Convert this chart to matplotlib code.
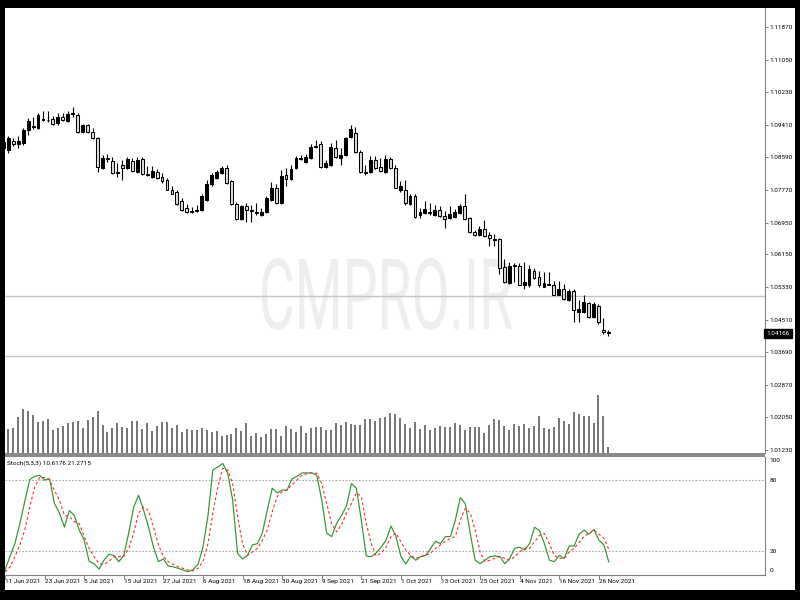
import numpy as np
import matplotlib
matplotlib.use("Agg")
import matplotlib.pyplot as plt
from matplotlib.patches import Rectangle, PathPatch
from matplotlib.textpath import TextPath
from matplotlib.font_manager import FontProperties
from matplotlib.transforms import Affine2D, blended_transform_factory

plt.rcParams['font.family'] = ['Roboto', 'DejaVu Sans']

# daily bars, 11 Jun 2021 .. 30 Nov 2021
opens = [
    1.0898, 1.0878, 1.0901, 1.0893, 1.0896, 1.0928, 1.0938, 1.0933, 1.0956, 1.0953,
    1.0956, 1.0946, 1.0961, 1.0951, 1.0971, 1.0966, 1.0923, 1.0941, 1.0923, 1.0908,
    1.0833, 1.0858, 1.0851, 1.0823, 1.0841, 1.0833, 1.0851, 1.0823, 1.0856, 1.0818,
    1.0811, 1.0823, 1.0811, 1.0803, 1.0778, 1.0771, 1.0750, 1.0732, 1.0725, 1.0725,
    1.0727, 1.0752, 1.0791, 1.0808, 1.0821, 1.0833, 1.0801, 1.0742, 1.0705, 1.0737,
    1.0727, 1.0722, 1.0715, 1.0722, 1.0752, 1.0783, 1.0745, 1.0816, 1.0806, 1.0833,
    1.0858, 1.0848, 1.0858, 1.0888, 1.0893, 1.0836, 1.0841, 1.0883, 1.0858, 1.0866,
    1.0911, 1.0921, 1.0873, 1.0823, 1.0823, 1.0853, 1.0836, 1.0823, 1.0856, 1.0833,
    1.0778, 1.0776, 1.0742, 1.0763, 1.0715, 1.0720, 1.0722, 1.0715, 1.0727, 1.0712,
    1.0707, 1.0710, 1.0720, 1.0737, 1.0707, 1.0672, 1.0664, 1.0679, 1.0664, 1.0654,
    1.0654, 1.0584, 1.0544, 1.0589, 1.0587, 1.0539, 1.0537, 1.0574, 1.0559, 1.0534,
    1.0542, 1.0539, 1.0514, 1.0529, 1.0501, 1.0522, 1.0471, 1.0471, 1.0494, 1.0459,
    1.0486, 1.0426, 1.0419]
closes = [
    1.0883, 1.0908, 1.0893, 1.0901, 1.0928, 1.0951, 1.0936, 1.0966, 1.0953, 1.0952,
    1.0943, 1.0961, 1.0953, 1.0968, 1.0968, 1.0923, 1.0941, 1.0923, 1.0908, 1.0836,
    1.0858, 1.0856, 1.0821, 1.0821, 1.0833, 1.0856, 1.0826, 1.0853, 1.0818, 1.0816,
    1.0826, 1.0808, 1.0801, 1.0778, 1.0768, 1.0742, 1.0727, 1.0722, 1.0723, 1.0727,
    1.0761, 1.0793, 1.0816, 1.0823, 1.0833, 1.0796, 1.0742, 1.0705, 1.0737, 1.0727,
    1.0725, 1.0720, 1.0722, 1.0756, 1.0783, 1.0745, 1.0813, 1.0806, 1.0831, 1.0858,
    1.0856, 1.0861, 1.0886, 1.0886, 1.0836, 1.0846, 1.0886, 1.0861, 1.0866, 1.0908,
    1.0931, 1.0873, 1.0823, 1.0821, 1.0853, 1.0833, 1.0826, 1.0856, 1.0833, 1.0783,
    1.0786, 1.0745, 1.0763, 1.0710, 1.0722, 1.0730, 1.0720, 1.0727, 1.0712, 1.0705,
    1.0717, 1.0722, 1.0737, 1.0705, 1.0672, 1.0664, 1.0679, 1.0662, 1.0657, 1.0652,
    1.0582, 1.0547, 1.0587, 1.0587, 1.0539, 1.0547, 1.0579, 1.0557, 1.0537, 1.0544,
    1.0539, 1.0514, 1.0529, 1.0504, 1.0522, 1.0476, 1.0479, 1.0496, 1.0459, 1.0491,
    1.0444, 1.0419, 1.04166]
highs = [
    1.0908, 1.0913, 1.0908, 1.0913, 1.0933, 1.0958, 1.0961, 1.0971, 1.0976, 1.0976,
    1.0963, 1.0971, 1.0971, 1.0976, 1.0986, 1.0971, 1.0943, 1.0943, 1.0933, 1.0911,
    1.0866, 1.0868, 1.0861, 1.0846, 1.0853, 1.0861, 1.0858, 1.0861, 1.0861, 1.0838,
    1.0838, 1.0831, 1.0821, 1.0808, 1.0786, 1.0776, 1.0758, 1.0742, 1.0735, 1.0740,
    1.0766, 1.0803, 1.0821, 1.0828, 1.0838, 1.0841, 1.0803, 1.0747, 1.0740, 1.0745,
    1.0740, 1.0745, 1.0732, 1.0761, 1.0798, 1.0791, 1.0828, 1.0833, 1.0841, 1.0863,
    1.0866, 1.0868, 1.0893, 1.0903, 1.0901, 1.0853, 1.0896, 1.0903, 1.0883, 1.0911,
    1.0941, 1.0936, 1.0878, 1.0841, 1.0863, 1.0863, 1.0858, 1.0866, 1.0861, 1.0841,
    1.0801, 1.0803, 1.0768, 1.0766, 1.0732, 1.0750, 1.0745, 1.0740, 1.0737, 1.0725,
    1.0737, 1.0730, 1.0742, 1.0766, 1.0710, 1.0677, 1.0687, 1.0702, 1.0672, 1.0667,
    1.0657, 1.0604, 1.0597, 1.0594, 1.0594, 1.0597, 1.0589, 1.0582, 1.0574, 1.0572,
    1.0572, 1.0549, 1.0549, 1.0542, 1.0527, 1.0527, 1.0501, 1.0514, 1.0496, 1.0496,
    1.0491, 1.0456, 1.0424]
lows = [
    1.0873, 1.0871, 1.0888, 1.0883, 1.0891, 1.0916, 1.0931, 1.0931, 1.0951, 1.0948,
    1.0941, 1.0941, 1.0951, 1.0948, 1.0961, 1.0921, 1.0921, 1.0921, 1.0906, 1.0823,
    1.0831, 1.0848, 1.0818, 1.0811, 1.0803, 1.0831, 1.0823, 1.0821, 1.0816, 1.0813,
    1.0808, 1.0806, 1.0796, 1.0776, 1.0766, 1.0740, 1.0725, 1.0720, 1.0720, 1.0722,
    1.0725, 1.0750, 1.0786, 1.0806, 1.0818, 1.0793, 1.0740, 1.0702, 1.0702, 1.0697,
    1.0697, 1.0715, 1.0712, 1.0720, 1.0750, 1.0742, 1.0742, 1.0786, 1.0803, 1.0831,
    1.0853, 1.0846, 1.0856, 1.0883, 1.0833, 1.0833, 1.0838, 1.0858, 1.0841, 1.0863,
    1.0908, 1.0871, 1.0821, 1.0816, 1.0821, 1.0831, 1.0823, 1.0821, 1.0831, 1.0781,
    1.0771, 1.0740, 1.0740, 1.0707, 1.0707, 1.0717, 1.0715, 1.0712, 1.0710, 1.0682,
    1.0705, 1.0707, 1.0717, 1.0702, 1.0669, 1.0662, 1.0662, 1.0659, 1.0637, 1.0637,
    1.0567, 1.0544, 1.0542, 1.0547, 1.0537, 1.0529, 1.0534, 1.0554, 1.0534, 1.0532,
    1.0537, 1.0512, 1.0512, 1.0501, 1.0499, 1.0446, 1.0446, 1.0469, 1.0456, 1.0456,
    1.0441, 1.0416, 1.0411]
volumes = [
    70, 71, 75, 108, 133, 125, 114, 93, 96, 101,
    68, 75, 81, 91, 93, 95, 75, 98, 108, 125,
    85, 63, 75, 90, 78, 75, 96, 96, 72, 90,
    66, 81, 93, 93, 75, 85, 63, 73, 70, 68,
    75, 68, 63, 66, 51, 53, 56, 75, 66, 90,
    51, 61, 48, 58, 71, 73, 51, 81, 71, 63,
    81, 61, 75, 78, 78, 68, 68, 90, 83, 93,
    86, 85, 85, 101, 103, 95, 105, 108, 120, 116,
    105, 86, 75, 93, 72, 84, 68, 75, 81, 78,
    78, 90, 84, 69, 78, 78, 78, 61, 84, 101,
    98, 81, 68, 87, 82, 86, 74, 81, 110, 75,
    71, 77, 105, 96, 87, 122, 116, 110, 110, 90,
    173, 110, 18]
stoch_k = [
    3.6, 15, 26, 43, 62, 80.5, 83, 84, 80, 81,
    60, 52, 40, 54, 50, 37.5, 29, 11, 9, 4.4,
    12, 17, 16, 10.7, 16, 35, 57, 67, 54.5, 40,
    23, 10.7, 13, 7, 6.4, 5, 3.6, 2.2, 4, 8.4,
    23, 49, 88.5, 91, 94, 86, 63, 17.7, 13, 16,
    25, 26, 35, 54.5, 73, 69, 71.5, 71.5, 81, 83,
    86, 86, 86, 84, 63, 35, 32, 43, 50, 58,
    77, 73, 46, 15.5, 15, 18, 23, 29, 41, 32,
    15, 8.7, 15.5, 12, 15, 16, 22, 28, 26, 32,
    32, 46, 65, 60, 35, 12, 9, 12, 15, 15.5,
    15, 9, 13.5, 22, 23, 20.5, 26, 40, 37, 26,
    12, 10.7, 16, 13.5, 24, 24, 34, 37.5, 34, 38,
    29, 25, 10.6176]
stoch_d = [
    2, 6, 15, 25, 37.5, 57, 74, 82, 82, 80,
    71, 63, 50, 49, 44.6, 43, 32, 22, 15, 9,
    8.4, 11, 15, 15, 15, 22, 35, 52, 57, 54,
    40, 25, 15, 10.7, 8.4, 6.4, 5, 3.6, 3, 5,
    10.7, 26, 52, 74, 90, 88.5, 77, 49, 26, 16,
    19, 22, 29, 37.5, 53, 66, 70, 71.5, 76, 80,
    84, 85.5, 86, 85.5, 77, 60, 43, 36, 42, 52,
    60, 69, 66, 43, 26, 15.5, 18, 23, 32, 35,
    27.6, 20.5, 16, 13.5, 15, 16, 18, 22, 25, 28,
    30.5, 32, 46, 56, 52, 37.5, 19, 10.7, 12, 13.5,
    15, 13.5, 12, 15, 19, 22, 22, 27.6, 33, 34.7,
    26, 16, 13.5, 13.5, 19, 22, 27, 32, 35, 37.5,
    34, 30.5, 21.2715]

price_ticks = [1.11870, 1.11050, 1.10230, 1.09410, 1.08590, 1.07770, 1.06950,
               1.06150, 1.05330, 1.04510, 1.03690, 1.02870, 1.02050, 1.01230]
hlines = [1.05106, 1.03597]
date_pos = list(range(0, 121, 8))
date_labels = ["11 Jun 2021", "23 Jun 2021", "5 Jul 2021", "15 Jul 2021", "27 Jul 2021",
               "6 Aug 2021", "18 Aug 2021", "30 Aug 2021", "9 Sep 2021", "21 Sep 2021",
               "1 Oct 2021", "13 Oct 2021", "25 Oct 2021", "4 Nov 2021", "16 Nov 2021",
               "26 Nov 2021"]
last_price = 1.04166

W, H = 800, 600
FS = 4.6
fig = plt.figure(figsize=(8, 6), dpi=100, facecolor="black")


def frac(x0, y0, x1, y1):
    # pixel box, origin top-left -> figure rect
    return [x0 / W, 1 - y1 / H, (x1 - x0) / W, (y1 - y0) / H]


fig.add_artist(Rectangle((5 / W, 1 - 590 / H), 790 / W, 582 / H, transform=fig.transFigure,
                         fc="white", ec="none", zorder=-3))

# watermark
tp = TextPath((0, 0), "CMPRO.IR", size=100, prop=FontProperties(family="Roboto"))
bb = tp.get_extents()
tr = Affine2D().translate(-bb.x0, -bb.y0).scale(250 / bb.width / W, 72 / bb.height / H) \
    .translate(262 / W, 1 - 330 / H) + fig.transFigure
fig.add_artist(PathPatch(tp, transform=tr, fc="#eeeeee", ec="none", zorder=-2))

x = np.arange(len(opens))
o = np.array(opens)
c = np.array(closes)
xlim = (0.34, 153.57)

# volume in the bottom of the main window
vax = fig.add_axes(frac(5, 8, 765, 453), zorder=-1)
vax.patch.set_visible(False)
vax.vlines(x, 0, volumes, color="#6a6a6a", lw=1.3)
vax.set_xlim(xlim)
vax.set_ylim(0, 445 * 3)
vax.axis("off")

ax = fig.add_axes(frac(5, 8, 765, 453))
ax.patch.set_visible(False)
for y in hlines:
    ax.axhline(y, color="#c4c4c4", lw=1, zorder=1)
ax.vlines(x, lows, highs, color="black", lw=0.8, zorder=2)
bull = c >= o
body = np.maximum(np.abs(c - o), 0.00003)
ax.bar(x, body, bottom=np.minimum(o, c), width=0.58,
       color=np.where(bull, "black", "#e2dcdc"), edgecolor="black", linewidth=0.75, zorder=3)
ax.set_xlim(xlim)
ax.set_ylim(1.01157, 1.12349)
for s in ["left", "top", "bottom"]:
    ax.spines[s].set_visible(False)
ax.spines["right"].set_color("#808080")
ax.set_xticks([])
ax.yaxis.tick_right()
ax.set_yticks(price_ticks)
ax.set_yticklabels(["%.5f" % v for v in price_ticks])
ax.tick_params(axis="y", length=2.2, width=0.7, color="#808080", labelsize=FS, pad=1)
ax.text(1.002, last_price, "%.5f" % last_price, transform=blended_transform_factory(ax.transAxes, ax.transData),
        ha="left", va="center", color="white", fontsize=FS,
        bbox=dict(boxstyle="square,pad=0.35", fc="black", ec="black"), clip_on=False, zorder=5)

# separator
fig.add_artist(Rectangle((5 / W, 1 - 457 / H), 760 / W, 4 / H, transform=fig.transFigure,
                         fc="#8a8a8a", ec="none", zorder=2))

# stochastic window
sax = fig.add_axes(frac(5, 457, 765, 575))
sax.patch.set_visible(False)
sax.axhline(80, color="#a8a8a8", lw=0.8, ls=(0, (1.5, 1.5)))
sax.axhline(20, color="#a8a8a8", lw=0.8, ls=(0, (1.5, 1.5)))
sax.plot(x, stoch_k, color="#2f952f", lw=0.85)
sax.plot(x, stoch_d, color="#ff2a2a", lw=0.8, ls=(0, (2.5, 2.2)))
sax.set_xlim(xlim)
sax.set_ylim(-0.6, 99.5)
for s in ["left", "top"]:
    sax.spines[s].set_visible(False)
sax.spines["right"].set_color("#808080")
sax.spines["bottom"].set_color("#808080")
sax.yaxis.tick_right()
sax.set_yticks([80, 20])
sax.set_yticklabels(["80", "20"])
sax.tick_params(axis="y", length=0, labelsize=FS, pad=3.5)
sax.text(1.006, 0.995, "100", transform=sax.transAxes, ha="left", va="top", fontsize=FS)
sax.text(1.006, 0.02, "0", transform=sax.transAxes, ha="left", va="bottom", fontsize=FS)
sax.text(0.003, 0.975, "Stoch(5,3,3) 10.6176 21.2715", transform=sax.transAxes,
         ha="left", va="top", fontsize=FS)
sax.set_xticks(date_pos)
sax.set_xticklabels([])
sax.tick_params(axis="x", length=3, width=0.7, color="#808080")
btr = blended_transform_factory(sax.transData, sax.transAxes)
for p, lab in zip(date_pos, date_labels):
    sax.text(p, -0.035, lab, transform=btr, ha="left", va="top", fontsize=FS, clip_on=False)

# black frame on top
for rect in [(0, 0, 5, 600), (0, 0, 800, 8), (795, 0, 800, 600), (0, 590, 800, 600)]:
    x0, y0, x1, y1 = rect
    fig.add_artist(Rectangle((x0 / W, 1 - y1 / H), (x1 - x0) / W, (y1 - y0) / H,
                             transform=fig.transFigure, fc="black", ec="none", zorder=10))

fig.savefig("out.png", dpi=100, facecolor="black")
